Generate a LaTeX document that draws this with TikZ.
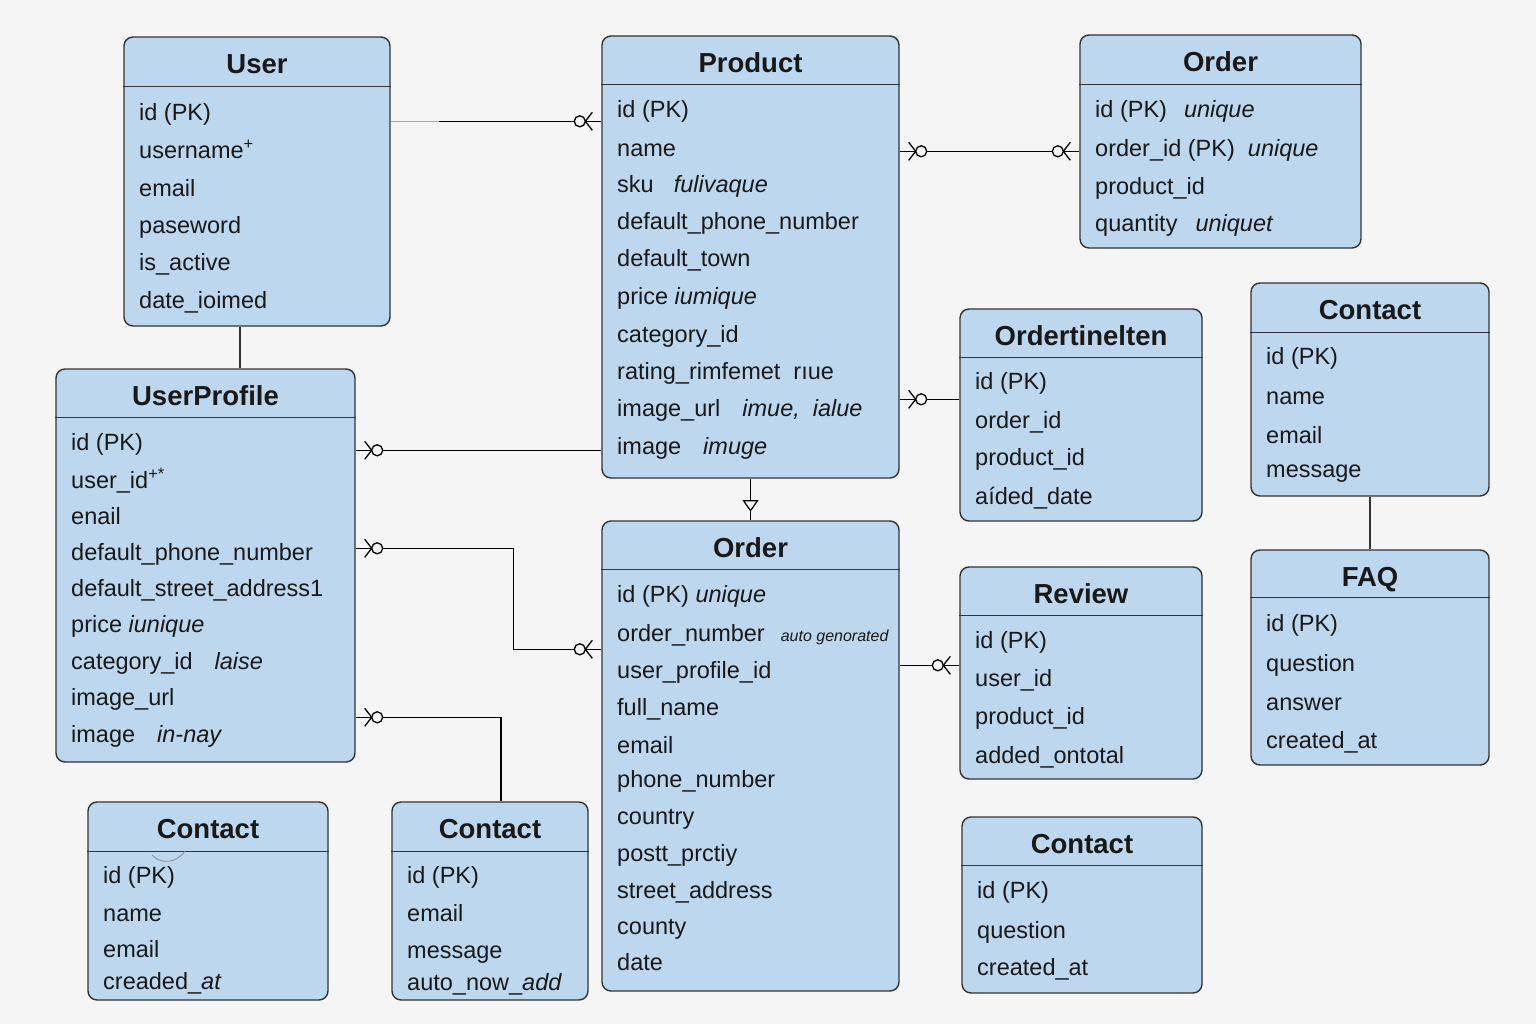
\documentclass[tikz,border=0pt]{standalone}
\usepackage{fontspec}
\setmainfont{Liberation Sans}

\definecolor{bgc}{HTML}{F5F5F5}
\definecolor{boxc}{HTML}{BDD7EE}
\definecolor{edgec}{HTML}{333333}

\tikzset{
  tbl/.style={draw=edgec, fill=boxc, line width=1.4pt, rounded corners=9pt, inner sep=0pt},
  hdr/.style={draw=edgec, line width=1.2pt},
  ttl/.style={font=\fontsize{27.5}{30}\selectfont\bfseries, text=black!90, text height=19.7pt, text depth=0pt, inner sep=0pt, yshift=-1.5pt},
  row/.style={anchor=west, font=\fontsize{23.5}{26}\selectfont, text=black!90, text height=14pt, text depth=2pt, inner sep=0pt, yshift=-2.5pt},
  rel/.style={draw=black, line width=1.3pt},
  zmany/.pic={\draw[rel] (9,-9) -- (16,0) -- (9,9); \draw[rel, fill=bgc] (21.5,0) circle (5.5);}
}

\begin{document}
\begin{tikzpicture}[x=1pt,y=-1pt]
\fill[bgc] (0,0) rectangle (1536,1024);

% tables
\node[tbl, minimum width=266pt, minimum height=289pt] (user) at (257,181.5) {};
\node[tbl, minimum width=297pt, minimum height=442pt] (product) at (750.5,257) {};
\node[tbl, minimum width=281pt, minimum height=213pt] (ordert) at (1220.5,141.5) {};
\node[tbl, minimum width=238pt, minimum height=213pt] (contact1) at (1370,389.5) {};
\node[tbl, minimum width=242pt, minimum height=212pt] (oli) at (1081,415) {};
\node[tbl, minimum width=299pt, minimum height=393pt] (uprof) at (205.5,565.5) {};
\node[tbl, minimum width=297pt, minimum height=470pt] (orderm) at (750.5,756) {};
\node[tbl, minimum width=242pt, minimum height=212pt] (review) at (1081,673) {};
\node[tbl, minimum width=238pt, minimum height=215pt] (faq) at (1370,657.5) {};
\node[tbl, minimum width=240pt, minimum height=198pt] (contact2) at (208,901) {};
\node[tbl, minimum width=196pt, minimum height=198pt] (contact3) at (490,901) {};
\node[tbl, minimum width=240pt, minimum height=176pt] (contact4) at (1082,905) {};

% headers and titles
\foreach \t/\h/\n in {user/50pt/User, product/49pt/Product, ordert/50pt/Order,
    contact1/50pt/Contact, oli/49pt/Ordertinelten, uprof/49pt/UserProfile,
    orderm/49pt/Order, review/49pt/Review, faq/48pt/FAQ, contact2/50pt/Contact,
    contact3/50pt/Contact, contact4/49pt/Contact}{
  \draw[hdr] ([yshift=-\h]\t.north west) -- ([yshift=-\h]\t.north east);
  \node[ttl] (\t-t) at ([yshift=-25.5pt]\t.north) {\n};
}

% rows
\foreach \y/\s [count=\i] in {112/{id (PK)}, 150/{username\textsuperscript{+}}, 188/email,
    225/paseword, 262/{is\_active}, 300/{date\_ioimed}}
  \node[row] (user-\i) at (139,\y) {\s};
\foreach \y/\s [count=\i] in {109/{id (PK)}, 148/name, 184/{sku\hspace{20pt}\textit{fulivaque}},
    221/{default\_phone\_number}, 258/{default\_town}, 296/{price \textit{iumique}},
    334/{category\_id}, 371/{rating\_rimfemet \ rıue}, 408/{image\_url\hspace{22pt}\textit{imue,\ \ ialue}},
    446/{image\hspace{22pt}\textit{imuge}}}
  \node[row] (product-\i) at (617,\y) {\s};
\foreach \y/\s [count=\i] in {109/{id (PK)\hspace{17pt}\textit{unique}}, 148/{order\_id (PK)\hspace{13pt}\textit{unique}},
    186/{product\_id}, 223/{quantity\hspace{18pt}\textit{uniquet}}}
  \node[row] (ordert-\i) at (1095,\y) {\s};
\foreach \y/\s [count=\i] in {356/{id (PK)}, 396/name, 435/email, 469/message}
  \node[row] (contact1-\i) at (1266,\y) {\s};
\foreach \y/\s [count=\i] in {381/{id (PK)}, 420/{order\_id}, 457/{product\_id}, 496/{aíded\_date}}
  \node[row] (oli-\i) at (975,\y) {\s};
\foreach \y/\s [count=\i] in {442/{id (PK)}, 480/{user\_id\textsuperscript{+*}}, 516/enail,
    552/{default\_phone\_number}, 588/{default\_street\_address1}, 624/{price \textit{iunique}},
    661/{category\_id\hspace{22pt}\textit{laise}}, 697/{image\_url}, 734/{image\hspace{22pt}\textit{in-nay}}}
  \node[row] (uprof-\i) at (71,\y) {\s};
\foreach \y/\s [count=\i] in {594/{id (PK) \textit{unique}},
    633/{order\_number\hspace{16pt}{\fontsize{16}{19}\selectfont\textit{auto genorated}}},
    670/{user\_profile\_id}, 707/{full\_name}, 745/email, 779/{phone\_number}, 816/country,
    853/{postt\_prctiy}, 890/{street\_address}, 926/county, 962/date}
  \node[row] (orderm-\i) at (617,\y) {\s};
\foreach \y/\s [count=\i] in {640/{id (PK)}, 678/{user\_id}, 716/{product\_id}, 755/{added\_ontotal}}
  \node[row] (review-\i) at (975,\y) {\s};
\foreach \y/\s [count=\i] in {623/{id (PK)}, 663/question, 702/answer, 740/{created\_at}}
  \node[row] (faq-\i) at (1266,\y) {\s};
\foreach \y/\s [count=\i] in {875/{id (PK)}, 913/name, 949/email, 981/{creaded\_\textit{at}}}
  \node[row] (contact2-\i) at (103,\y) {\s};
\foreach \y/\s [count=\i] in {875/{id (PK)}, 913/email, 950/message, 982/{auto\_now\_\textit{add}}}
  \node[row] (contact3-\i) at (407,\y) {\s};
\foreach \y/\s [count=\i] in {890/{id (PK)}, 930/question, 967/{created\_at}}
  \node[row] (contact4-\i) at (977,\y) {\s};

\draw[black!45, line width=0.8pt] (152,855) .. controls (160,864) and (176,864) .. (185,851);

% connectors
\coordinate (a1) at ([yshift=-85pt]user.north east);
\coordinate (a1g) at ([xshift=48pt]a1);
\draw[rel, draw=black!35] (a1) -- (a1g);
\draw[rel] (a1g) -- (product.west |- a1);
\path (product.west |- a1) pic[rotate=180] {zmany};

\coordinate (a2) at ([yshift=-116pt]product.north east);
\draw[rel] (a2) -- (ordert.west |- a2);
\path (a2) pic {zmany};
\path (ordert.west |- a2) pic[rotate=180] {zmany};

\coordinate (a3) at ([yshift=-364pt]product.north east);
\draw[rel] (a3) -- (oli.west |- a3);
\path (a3) pic {zmany};

\draw[rel] (product.south) -- (orderm.north);
\draw[rel, line width=1.2pt, fill=bgc] ([xshift=-7pt,yshift=-22pt]product.south) -- ++(14,0) -- ++(-7,10) -- cycle;

\coordinate (a4) at ([yshift=-82pt]uprof.north east);
\draw[rel] (a4) -- (product.west |- a4);
\path (a4) pic {zmany};

\coordinate (a5) at ([yshift=-180pt]uprof.north east);
\coordinate (a5b) at ([yshift=-129pt]orderm.north west);
\draw[rel] (a5) -| ([xshift=-88pt]a5b) |- (a5b);
\path (a5) pic {zmany};
\path (a5b) pic[rotate=180] {zmany};

\coordinate (a6) at ([yshift=-349pt]uprof.north east);
\coordinate (a6b) at ([xshift=11pt]contact3.north);
\draw[rel] (a6) -| (a6b);
\path (a6) pic {zmany};

\coordinate (a7) at ([yshift=-99pt]review.north west);
\draw[rel] (a7) -- (orderm.east |- a7);
\path (a7) pic[rotate=180] {zmany};

\coordinate (a8) at ([xshift=-17pt]user.south);
\draw[rel, draw=edgec] (a8) -- (uprof.north -| a8);
\draw[rel, draw=edgec] (contact1.south) -- (faq.north);
\end{tikzpicture}
\end{document}
